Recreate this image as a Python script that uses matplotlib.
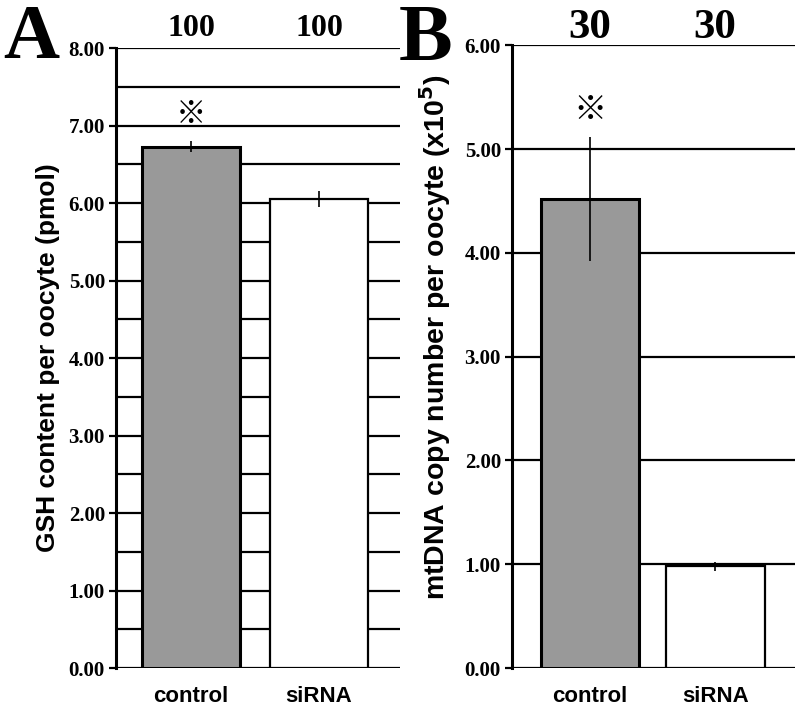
import matplotlib.pyplot as plt
import numpy as np

groups = ["control", "siRNA"]

gsh_mean = [6.73, 6.05]
gsh_err = [0.07, 0.10]
gsh_n = ["100", "100"]

mt_mean = [4.52, 0.98]
mt_err = [0.60, 0.04]
mt_n = ["30", "30"]

bar_colors = ["#999999", "white"]
serif = ["Liberation Serif", "DejaVu Serif"]
sans = ["Liberation Sans", "DejaVu Sans"]

fig = plt.figure(figsize=(8, 7.07), dpi=100)
axA = fig.add_axes([0.145, 0.055, 0.355, 0.877])
axB = fig.add_axes([0.64, 0.055, 0.354, 0.881])


def draw_panel(ax, means, errs, ns, ymax, grid_step, width, xlim, ylabel,
               lsize, nsize, ny):
    x = np.arange(len(groups))
    for g in np.arange(0, ymax + 1e-9, grid_step):
        ax.axhline(g, color="black", lw=1.6, zorder=1)
    ax.bar(x, means, width=width, color=bar_colors, edgecolor="black",
           linewidth=[2.2, 1.6], zorder=2)
    ax.errorbar(x, means, yerr=errs, fmt="none", ecolor="black",
                elinewidth=1.2, capsize=0, zorder=3)
    ax.set_xlim(*xlim)
    ax.set_ylim(0, ymax)
    ticks = np.arange(0, ymax + 1e-9, 1.0)
    ax.set_yticks(ticks)
    ax.set_yticklabels([f"{v:.2f}" for v in ticks],
                       family=serif, fontweight="bold", fontsize=15)
    ax.tick_params(axis="y", direction="out", length=5, width=1.6, pad=3)
    ax.set_xticks(x)
    ax.set_xticklabels(groups, family=sans, fontweight="bold", fontsize=16)
    ax.tick_params(axis="x", length=0, pad=13)
    for s in ["top", "right", "bottom"]:
        ax.spines[s].set_visible(False)
    ax.spines["left"].set_linewidth(2.2)
    ax.set_ylabel(ylabel, family=sans, fontweight="bold", fontsize=lsize,
                  labelpad=6)
    for xi, n in zip(x, ns):
        ax.text(xi, ny, n, transform=ax.get_xaxis_transform(), ha="center",
                va="bottom", family=serif, fontweight="bold", fontsize=nsize)
    ax.patch.set_alpha(0)


draw_panel(axA, gsh_mean, gsh_err, gsh_n, 8.0, 0.5, 0.76, (-0.586, 1.633),
           "GSH content per oocyte (pmol)", 19, 23, 1.008)
draw_panel(axB, mt_mean, mt_err, mt_n, 6.0, 1.0, 0.79, (-0.624, 1.64),
           "mtDNA copy number per oocyte (x10$^\\mathbf{5}$)", 20.5, 31, 0.997)
# label in B sits a little above the centre in the original
axB.yaxis.set_label_coords(-0.21, 0.532)

# significance marks
axA.text(0, gsh_mean[0] + 0.22, "※", ha="center", va="bottom",
         family=["Noto Sans CJK JP", "DejaVu Sans"], fontsize=22)
axB.text(0, mt_mean[0] + 0.68, "※", ha="center", va="bottom",
         family=["Noto Sans CJK JP", "DejaVu Sans"], fontsize=24)

# panel letters
fig.text(0.004, 0.995, "A", ha="left", va="top", family=serif,
         fontweight="bold", fontsize=56)
fig.text(0.498, 0.995, "B", ha="left", va="top", family=serif,
         fontweight="bold", fontsize=58)

fig.savefig("out.png", dpi=100)
